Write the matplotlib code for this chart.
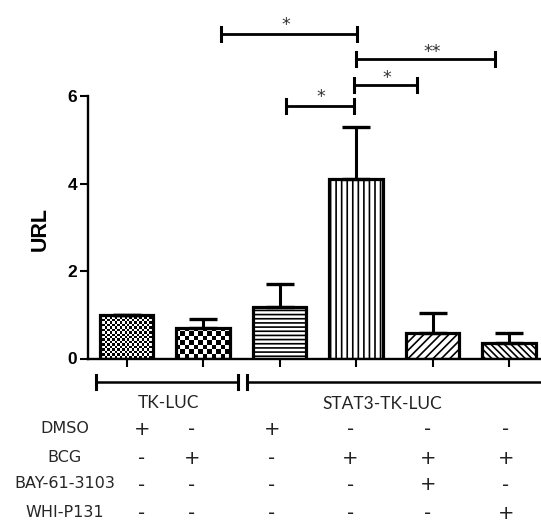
import numpy as np
import matplotlib
matplotlib.use("Agg")
import matplotlib.pyplot as plt
from matplotlib.transforms import Affine2D

# ---------------- data ----------------
groups = ["TK-LUC", "STAT3-TK-LUC"]
values = [1.00, 0.70, 1.17, 4.10, 0.59, 0.36]
errors = [0.00, 0.20, 0.53, 1.20, 0.44, 0.22]
y_ticks = [0, 2, 4, 6]
y_label = "URL"
row_labels = ["DMSO", "BCG", "BAY-61-3103", "WHI-P131"]
dmso = ["+", "-", "+", "-", "-", "-"]
bcg = ["-", "+", "-", "+", "+", "+"]
bay = ["-", "-", "-", "-", "+", "-"]
whi = ["-", "-", "-", "-", "-", "+"]
sig_labels = ["*", "**", "*", "*"]

# ---------------- style ----------------
hatches = [None, None, "----", "|||", "////", "\\\\\\\\\\"]
checker_px = [2.4, 4.6, None, None, None, None]   # checkerboard cell size (px)

plt.rcParams["hatch.linewidth"] = 1.2
W, H, DPI = 541, 522, 100
fig = plt.figure(figsize=(W / DPI, H / DPI), dpi=DPI)
fig.patch.set_facecolor("white")

x0_px, y0_px = 87.5, 358.5          # axes origin in pixels
px_per_x, px_per_y = 76.5, 43.75
ax = fig.add_axes([x0_px / W, 1 - y0_px / H, 1 - x0_px / W, y0_px / H])
ax.set_xlim((x0_px - 126.7) / px_per_x, (W - 126.7) / px_per_x)
ax.set_ylim(0, y0_px / px_per_y)

# pixel transform (x from left, y from top)
T = Affine2D().scale(1 / DPI, -1 / DPI).translate(0, H / DPI) + fig.dpi_scale_trans

x = np.arange(len(values))
bw = 0.7
face = ax.bar(x, values, width=bw, color="white", edgecolor="black",
              linewidth=0, zorder=2)
for b, h in zip(face, hatches):
    if h:
        b.set_hatch(h)

# checkerboard textures
for i, (b, c) in enumerate(zip(face, checker_px)):
    if c is None:
        continue
    nx = max(1, int(round(bw * px_per_x / c)))
    ny = max(1, int(round(values[i] * px_per_y / c)))
    board = np.add.outer(np.arange(ny), np.arange(nx)) % 2
    im = ax.imshow(board, cmap="gray", vmin=0, vmax=1, origin="lower",
                   extent=(i - bw / 2, i + bw / 2, 0, values[i]),
                   aspect="auto", interpolation="nearest", zorder=2.5)
    im.set_clip_path(b)

ax.bar(x, values, width=bw, facecolor="none", edgecolor="black",
       linewidth=2.3, zorder=3)
ax.errorbar(x, values, yerr=[np.zeros(len(values)), errors], fmt="none",
            ecolor="black", elinewidth=2.2, capsize=10.3, capthick=2.4,
            zorder=3.5)

# axes styling
for s in ["top", "right"]:
    ax.spines[s].set_visible(False)
ax.spines["left"].set_bounds(0, 6)
ax.spines["left"].set_linewidth(1.7)
ax.spines["bottom"].set_linewidth(1.7)
ax.set_yticks(y_ticks)
ax.set_yticklabels([str(t) for t in y_ticks], fontfamily="Liberation Sans",
                   fontweight="bold", fontsize=12.5)
ax.tick_params(axis="y", direction="out", length=6, width=1.5, pad=1.5)
ax.set_xticks(x)
ax.set_xticklabels([])
ax.tick_params(axis="x", direction="out", length=6, width=1.5)
ax.text(40.5, 229, y_label, transform=T, rotation=90, ha="center", va="center",
        fontfamily="Liberation Sans", fontweight="bold", fontsize=15.5)

# significance brackets (pixel layout)
brackets = [(221, 357.3, 33.7, 285.7, 20),
            (355.7, 495, 58.7, 432, 46.7),
            (354.3, 416.7, 84.7, 386.7, 73.3),
            (285.7, 354.3, 106, 320.7, 91.7)]
for (xa, xb, yy, xs, ys), lab in zip(brackets, sig_labels):
    ax.plot([xa, xb], [yy, yy], color="black", lw=2.0, transform=T, clip_on=False)
    for xc in (xa, xb):
        ax.plot([xc, xc], [yy - 7, yy + 7], color="black", lw=2.2,
                transform=T, clip_on=False)
    ax.text(xs, ys + 5, lab, transform=T, ha="center", va="center",
            fontsize=12.5, color="#333333", fontfamily="DejaVu Sans")

# group brackets
for xa, xb in [(95.7, 237.5), (246.7, 560)]:
    ax.plot([xa, xb], [381.7, 381.7], color="black", lw=1.8, transform=T, clip_on=False)
    for xc in (xa, xb):
        ax.plot([xc, xc], [374.5, 389], color="black", lw=2.2, transform=T, clip_on=False)
for (gx, gy), g in zip([(168.8, 403.3), (382.7, 404.3)], groups):
    ax.text(gx, gy, g, transform=T, ha="center", va="center",
            fontfamily="Lato", fontsize=12.5, color="#222222")

# treatment table
row_y = [428.3, 457.3, 484, 512.7]
col_x = [141.7, 191.7, 272, 350.3, 427.7, 506]
for ry, lab, row in zip(row_y, row_labels, [dmso, bcg, bay, whi]):
    fig.text(64.5, ry, lab, transform=T, ha="center", va="center",
             fontfamily="DejaVu Sans", fontsize=11.5, color="#262626")
    for cx, s in zip(col_x, row):
        fig.text(cx, ry + 1, s, transform=T, ha="center", va="center",
                 fontfamily="DejaVu Sans", fontsize=14, color="#222222")

fig.savefig("out.png", dpi=DPI, facecolor="white")
